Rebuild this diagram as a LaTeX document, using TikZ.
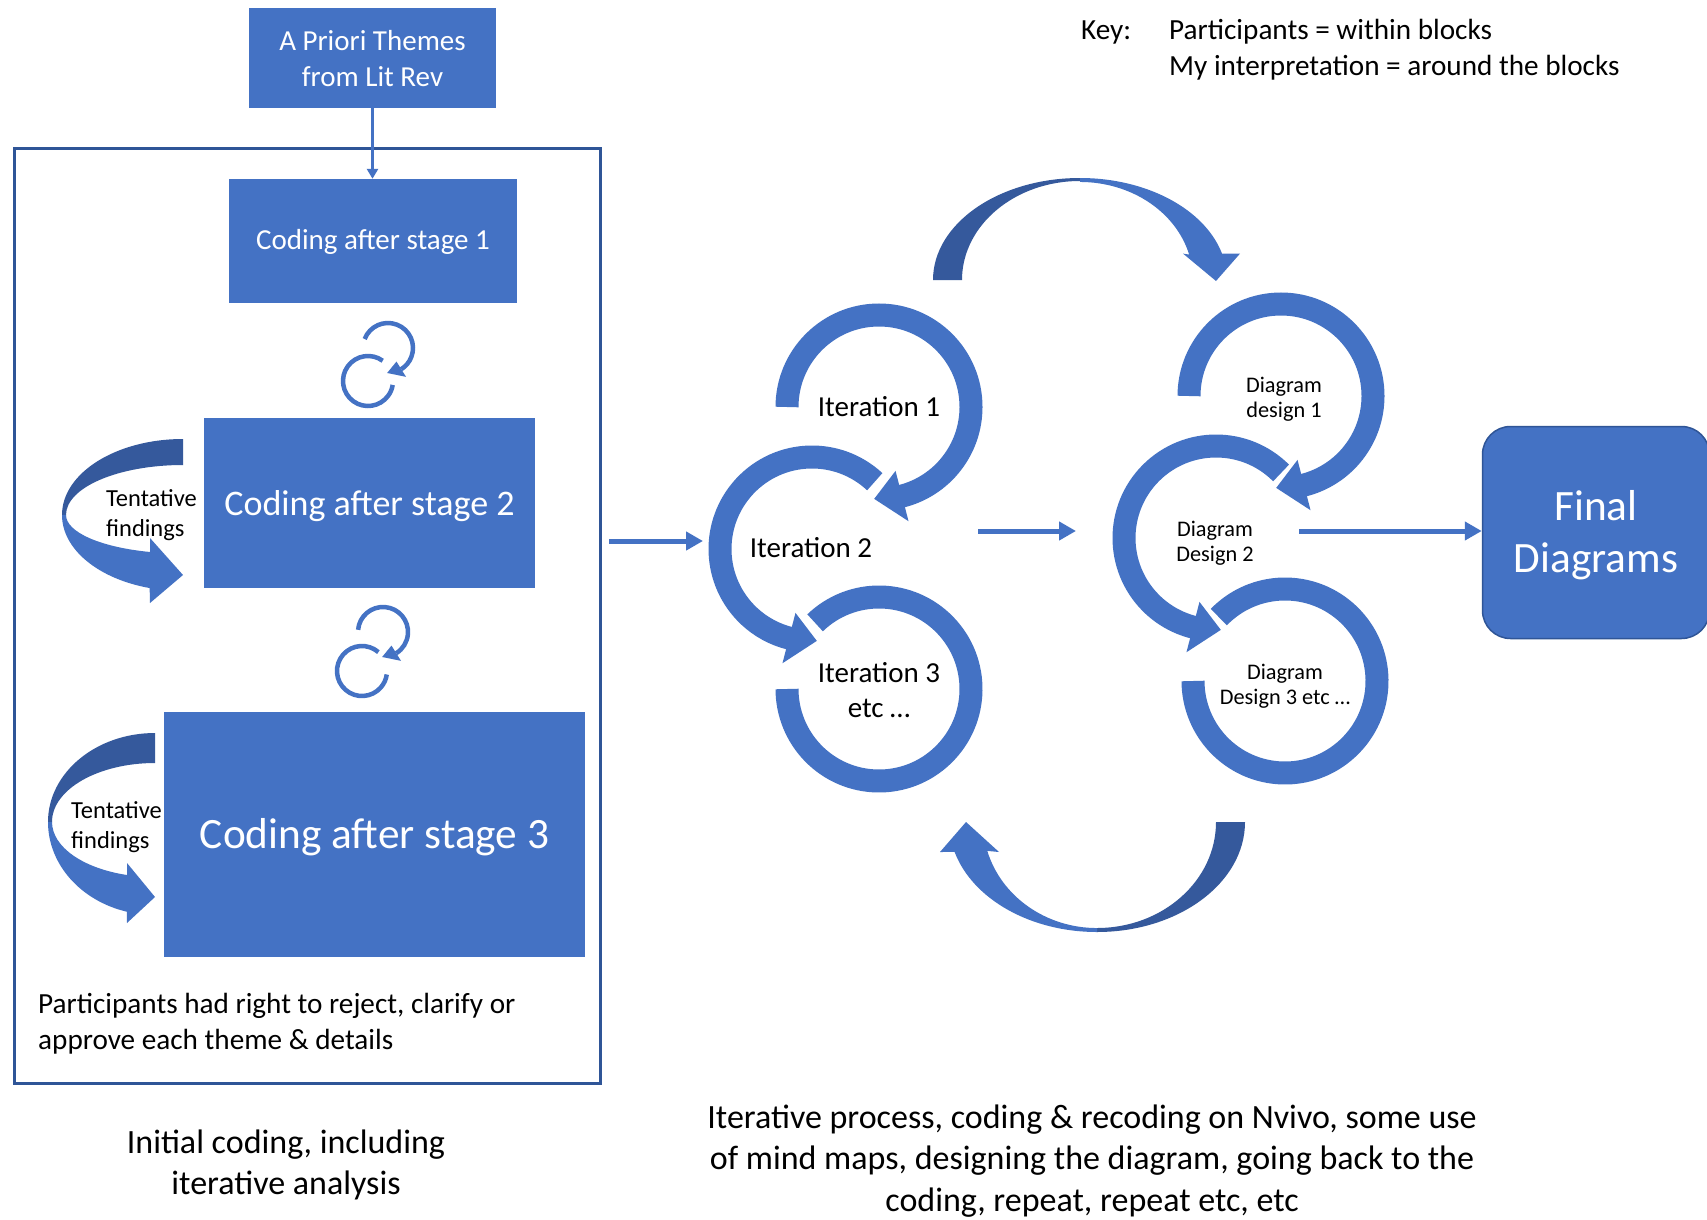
\documentclass[tikz,border=0pt]{standalone}
\usepackage{fontspec}
\setmainfont{Carlito}
\usetikzlibrary{arrows.meta}
\definecolor{ob}{HTML}{4472C4}
\definecolor{obd}{HTML}{2F5597}
\definecolor{obs}{HTML}{35599C}
\newcommand\szA{\fontsize{29pt}{35.5pt}\selectfont}
\newcommand\szB{\fontsize{34pt}{41.5pt}\selectfont}
\newcommand\szC{\fontsize{24.5pt}{29.5pt}\selectfont}
\newcommand\szD{\fontsize{22.3pt}{24.5pt}\selectfont}
\newcommand\szE{\fontsize{43.3pt}{52pt}\selectfont}
\newcommand\szF{\fontsize{36pt}{44pt}\selectfont}
\newcommand\szK{\fontsize{29.2pt}{36pt}\selectfont}
\begin{document}
\begin{tikzpicture}[x=1pt,y=-1pt,
  bluebox/.style={fill=ob, inner sep=0pt},
  boxtext/.style={inner sep=0pt, text=white, align=center},
  ring/.style={draw=ob, line width=23pt},
  smallring/.style={draw=ob, line width=4.5pt},
  conn/.style={draw=ob, line width=5pt, -{Triangle[length=17pt,width=18pt]}},
  thinconn/.style={draw=ob, line width=2.5pt, -{Triangle[length=10pt,width=11pt]}},
  lbl/.style={inner sep=0pt, align=center, text=black},
  lbll/.style={inner sep=0pt, align=left, text=black},
]
\useasboundingbox (0,0) rectangle (1707,1220);
\fill[white] (0,0) rectangle (1707,1220);

% ---------- left block ----------
\node[draw=obd, line width=3pt, minimum width=586pt, minimum height=935pt, inner sep=0pt] (outer) at (307.5,616) {};
\node[bluebox, minimum width=247pt, minimum height=100pt] (apriori) at (372.5,58) {};
\node[boxtext, font=\szA] (aprioriT) at ([yshift=-0.5pt]apriori.center) {A Priori Themes\\from Lit Rev};
\node[bluebox, minimum width=288pt, minimum height=124pt] (s1) at (373,241) {};
\node[boxtext, font=\szA] (s1T) at ([yshift=-1pt]s1.center) {Coding after stage 1};
\node[bluebox, minimum width=331pt, minimum height=170pt] (s2) at (369.5,503) {};
\node[boxtext, font=\szF] (s2T) at ([yshift=-3pt]s2.center) {Coding after stage 2};
\node[bluebox, minimum width=421pt, minimum height=245pt] (s3) at (374.5,834.5) {};
\node[boxtext, font=\szE] (s3T) at ([yshift=-3pt]s3.center) {Coding after stage 3};
\draw[thinconn] (apriori.south) -- (apriori.south |- s1.north);

% small linked rings, pair 1
\draw[smallring] (388,348) ++(-159:25) arc[start angle=-159, end angle=58, radius=25];
\fill[ob, shift={(388,348)}] (58:16) -- (58:34) -- (92:25) -- cycle;
\draw[smallring] (368,381) ++(-54:25) arc[start angle=-54, end angle=-351, radius=25];
% small linked rings, pair 2
\draw[smallring] (383,632) ++(-175:25) arc[start angle=-175, end angle=58, radius=25];
\fill[ob, shift={(383,632)}] (58:16) -- (58:34) -- (92:25) -- cycle;
\draw[smallring] (362,671) ++(-49:25) arc[start angle=-49, end angle=-352, radius=25];

% tentative findings arrow 1
\fill[obs] (183,439) arc[start angle=270, end angle=180, x radius=121, y radius=76]
  -- (66,515) arc[start angle=180, end angle=270, x radius=117, y radius=50] -- cycle;
\fill[ob] (62,515) arc[start angle=180, end angle=106, x radius=121, y radius=76]
  -- (150,603) -- (183,575) -- (150,538) -- (150,552)
  arc[start angle=106.4, end angle=180, x radius=117, y radius=38.6] -- cycle;
\node[lbll, font=\szC, anchor=west] (tf1) at (106,515) {Tentative\\findings};

% tentative findings arrow 2
\fill[obs] (155,733) arc[start angle=270, end angle=180, x radius=107, y radius=89]
  -- (52,822) arc[start angle=180, end angle=270, x radius=103, y radius=59] -- cycle;
\fill[ob] (48,822) arc[start angle=180, end angle=105.2, x radius=107, y radius=93]
  -- (127,923) -- (155,897) -- (127,863) -- (127,875)
  arc[start angle=105.8, end angle=180, x radius=103, y radius=55] -- cycle;
\node[lbll, font=\szC, anchor=west] (tf2) at (71,827) {Tentative\\findings};

\node[lbll, font=\szK, anchor=west] (rights) at (38,1024) {Participants had right to reject, clarify or\\approve each theme \& details};
\node[lbl, font=\szB] (initial) at (286,1165) {Initial coding, including\\iterative analysis};

% ---------- key ----------
\node[lbll, font=\szK, anchor=west] (keyword) at (1081,32) {Key:};
\node[lbll, font=\szK, anchor=west] (keytext) at (1169,50) {Participants = within blocks\\My interpretation = around the blocks};

% ---------- iterations ----------
\draw[ring] (879,407) ++(-180:92) arc[start angle=-180, end angle=76, radius=92];
\fill[ob, shift={(879,407)}] (75.5:66) -- (75.5:118) -- (93:92) -- cycle;
\draw[ring] (812,549) ++(-47:92) arc[start angle=-47, end angle=-256, radius=92];
\fill[ob, shift={(812,549)}] (-255.5:66) -- (-255.5:118) -- (-273:92) -- cycle;
\draw[ring] (879,689) ++(-134:92) arc[start angle=-134, end angle=180, radius=92];
\node[lbl, font=\szA] (it1) at (879,407) {Iteration 1};
\node[lbl, font=\szA] (it2) at (811,548) {Iteration 2};
\node[lbl, font=\szA] (it3) at (879,690) {Iteration 3\\etc …};

% ---------- diagram designs ----------
\draw[ring] (1281,396) ++(-180:92) arc[start angle=-180, end angle=76, radius=92];
\fill[ob, shift={(1281,396)}] (75.5:66) -- (75.5:118) -- (93:92) -- cycle;
\draw[ring] (1216,538) ++(-45:92) arc[start angle=-45, end angle=-256, radius=92];
\fill[ob, shift={(1216,538)}] (-255.5:66) -- (-255.5:118) -- (-273:92) -- cycle;
\draw[ring] (1285,681) ++(-136:92) arc[start angle=-136, end angle=180, radius=92];
\node[lbl, font=\szD] (dd1) at (1284,399) {Diagram\\design 1};
\node[lbl, font=\szD] (dd2) at (1215,543) {Diagram\\Design 2};
\node[lbl, font=\szD] (dd3) at (1285,686) {Diagram\\Design 3 etc …};

% ---------- big curved arrows ----------
\fill[obs] (933,280) arc[start angle=180, end angle=270, x radius=147, y radius=102]
  -- (1080,181) arc[start angle=270, end angle=180, x radius=118, y radius=99] -- cycle;
\fill[ob] (1080,178) arc[start angle=270, end angle=345, x radius=147, y radius=102]
  -- (1240,253.6) -- (1216,281) -- (1183,253.6) -- (1189.15,254.6)
  arc[start angle=345, end angle=270, x radius=113, y radius=98] -- cycle;

\fill[obs] (1245,822) arc[start angle=0, end angle=90, x radius=148, y radius=110]
  -- (1097,928) arc[start angle=90, end angle=0, x radius=119, y radius=106] -- cycle;
\fill[ob] (1097,932) arc[start angle=90, end angle=164.2, x radius=148, y radius=110]
  -- (940,852) -- (966,822) -- (999,852) -- (987.3,850.9)
  arc[start angle=164.2, end angle=90, x radius=114, y radius=106] -- cycle;

% ---------- final ----------
\node[bluebox, draw=obd, line width=1.5pt, rounded corners=28pt, minimum width=227pt, minimum height=212pt] (final) at (1596,532.5) {};
\node[boxtext, font=\szE] (finalT) at ([yshift=-3pt]final.center) {Final\\Diagrams};

% ---------- connectors ----------
\coordinate (la) at (609,541);
\coordinate (lb) at (703,541);
\draw[conn] (la) -- (lb);
\coordinate (ma) at (978,531);
\coordinate (mb) at (1076,531);
\draw[conn] (ma) -- (mb);
\coordinate (ra) at (1299,531);
\draw[conn] (ra) -- (ra -| final.west);

\node[lbl, font=\szB] (iterative) at (1092,1161) {Iterative process, coding \& recoding on Nvivo, some use\\of mind maps, designing the diagram, going back to the\\coding, repeat, repeat etc, etc};
\end{tikzpicture}
\end{document}
